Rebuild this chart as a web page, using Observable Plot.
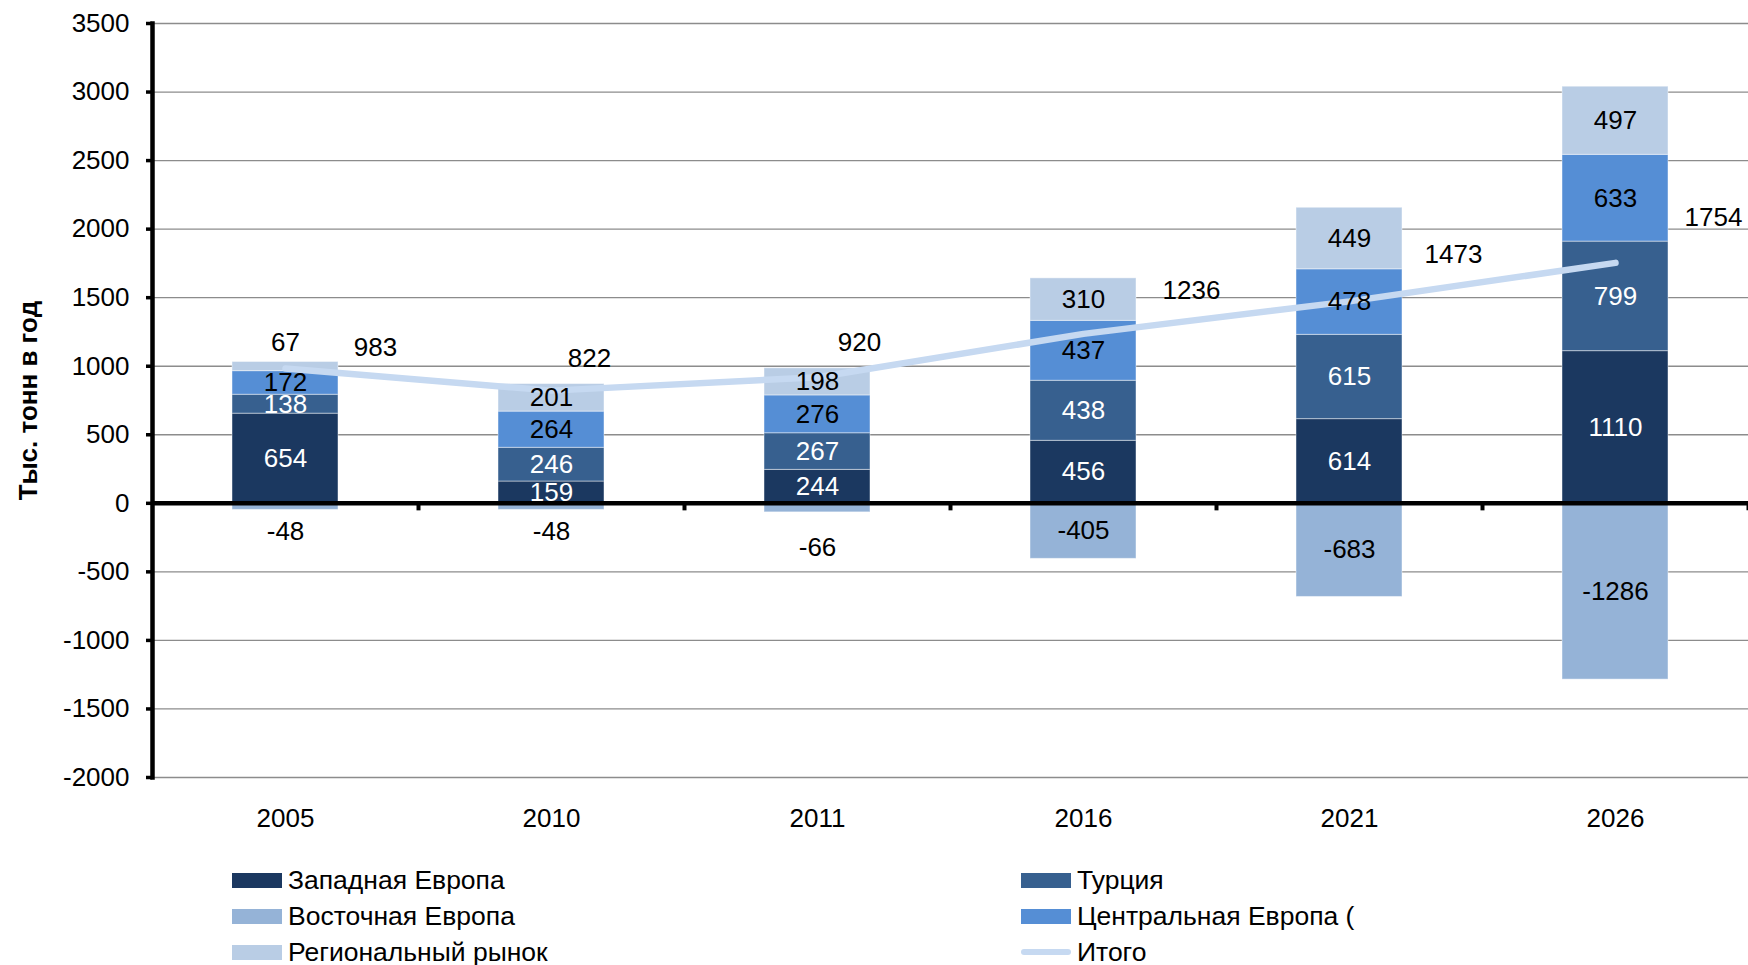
<!DOCTYPE html>
<html>
<head>
<meta charset="utf-8">
<script src="https://cdn.jsdelivr.net/npm/d3@7"></script>
<script src="https://cdn.jsdelivr.net/npm/@observablehq/plot@0.6"></script>
<style>
  body { margin: 0; background: #fff; font-family: "Liberation Sans", Arial, sans-serif; }
  #wrap { position: relative; width: 1748px; height: 965px; overflow: hidden; background: #fff; }
  #chart { position: absolute; left: 0; top: 0; }
  .leg { position: absolute; height: 30px; display: flex; align-items: center; font-size: 26.5px; color: #000; white-space: nowrap; }
  .sw { width: 50px; height: 15px; margin-right: 6px; flex: none; }
  .swline { width: 50px; height: 6px; border-radius: 3px; margin-right: 6px; flex: none; }
</style>
</head>
<body>
<div id="wrap"><div id="chart"></div></div>
<script>
// ---- data ----
const years = ["2005", "2010", "2011", "2016", "2021", "2026"];
const westernEurope = [654, 159, 244, 456, 614, 1110];
const turkey = [138, 246, 267, 438, 615, 799];
const centralEurope = [172, 264, 276, 437, 478, 633];
const regionalMarket = [67, 201, 198, 310, 449, 497];
const easternEurope = [-48, -48, -66, -405, -683, -1286];
const total = [983, 822, 920, 1236, 1473, 1754];
const yTicks = [-2000, -1500, -1000, -500, 0, 500, 1000, 1500, 2000, 2500, 3000, 3500];

const seriesNames = ["Западная Европа", "Турция", "Центральная Европа (", "Региональный рынок", "Восточная Европа"];
const totalName = "Итого";
const yTitle = "Тыс. тонн в год";

// ---- styles ----
const seriesColors = ["#1b3860", "#37608f", "#558ed5", "#b9cde5", "#95b3d7"];
const labelColors = ["white", "white", "black", "black", "black"];
const lineColor = "#c6d9f1";

const seriesValues = [westernEurope, turkey, centralEurope, regionalMarket, easternEurope];
const data = years.flatMap((year, i) =>
  seriesNames.map((s, k) => ({year, series: s, value: seriesValues[k][i], k}))
);
const totals = years.map((year, i) => ({year, total: total[i]}));

const W = 1748, H = 845, mL = 152, mR = 0, mT = 23, mB = 68;
const step = (W - mL - mR) / years.length;

// label offsets as placed in the original
const totalOffsets = {
  "2005": [90, -21], "2010": [38, -32], "2011": [42, -35],
  "2016": [108, -43], "2021": [104, -47], "2026": [98, -45]
};
const negSmallOffsets = {"2005": 22, "2010": 22, "2011": 35, "2016": 22, "2021": 22, "2026": 22};

const small = 100;
const stackOpts = {x: "year", y: "value", z: "series", order: seriesNames};

const marks = [
  Plot.gridY(yTicks.filter(t => t !== 0), {stroke: "#8c8c8c", strokeOpacity: 1, strokeWidth: 1.3}),
  Plot.barY(data, {...stackOpts, fill: "series", stroke: "white", strokeOpacity: 0.45, strokeWidth: 1}),
  Plot.ruleY([0], {stroke: "black", strokeWidth: 4.5}),
  Plot.ruleX(years, {x: d => d, y1: 0, y2: -55, dx: step / 2, stroke: "black", strokeWidth: 4}),
  Plot.line(totals, {x: "year", y: "total", stroke: lineColor, strokeWidth: 6.5, strokeLinecap: "round", strokeLinejoin: "round"}),
  // centred segment labels
  ...[0, 1, 2, 3, 4].map(k =>
    Plot.text(data, Plot.stackY({
      ...stackOpts,
      text: d => (d.k === k && Math.abs(d.value) >= small) ? String(d.value) : null,
      fill: labelColors[k], fontSize: 26
    }))
  ),
  // small positive segment labels: above the stack
  Plot.text(data, Plot.stackY2({
    ...stackOpts,
    text: d => (d.value > 0 && d.value < small) ? String(d.value) : null,
    fill: "black", fontSize: 26, dy: -19
  })),
  // small negative segment labels: below the bar
  ...years.map(yr =>
    Plot.text(data, Plot.stackY2({
      ...stackOpts,
      text: d => (d.year === yr && d.value < 0 && d.value > -small) ? String(d.value) : null,
      fill: "black", fontSize: 26, dy: negSmallOffsets[yr]
    }))
  ),
  // total labels
  ...years.map(yr =>
    Plot.text(totals.filter(d => d.year === yr), {
      x: "year", y: "total", text: d => String(d.total),
      fill: "black", fontSize: 26, dx: totalOffsets[yr][0], dy: totalOffsets[yr][1]
    })
  ),
  // axes
  Plot.axisY({ticks: yTicks, tickFormat: d => String(d), tickSize: 6, tickPadding: 17, strokeWidth: 3.5, fontSize: 26, label: null}),
  Plot.frame({anchor: "left", stroke: "black", strokeWidth: 4.5}),
  Plot.text(years, {x: d => d, text: d => d, frameAnchor: "bottom", dy: 49, fontSize: 26, fill: "black"}),
  Plot.text([yTitle], {text: d => d, frameAnchor: "left", textAnchor: "middle", dx: -124, rotate: -90, fontWeight: "bold", fontSize: 26, fill: "black"})
];

const chart = Plot.plot({
  width: W, height: H,
  marginLeft: mL, marginRight: mR, marginTop: mT, marginBottom: mB,
  style: {fontFamily: "'Liberation Sans', Arial, sans-serif", fontSize: "26px", color: "black", background: "white", overflow: "visible"},
  x: {type: "band", domain: years, paddingInner: 0.6, paddingOuter: 0.3, axis: null},
  y: {domain: [-2000, 3500], axis: null},
  color: {domain: seriesNames, range: seriesColors},
  marks
});
document.getElementById("chart").appendChild(chart);

// ---- legend (HTML, below the SVG) ----
const legendItems = [
  {name: seriesNames[0], color: seriesColors[0]},
  {name: seriesNames[1], color: seriesColors[1]},
  {name: seriesNames[4], color: seriesColors[4]},
  {name: seriesNames[2], color: seriesColors[2]},
  {name: seriesNames[3], color: seriesColors[3]},
  {name: totalName, color: lineColor, line: true}
];
const colX = [232, 1021];
const rowY = [880, 916, 952];
const wrap = document.getElementById("wrap");
legendItems.forEach((it, i) => {
  const el = document.createElement("div");
  el.className = "leg";
  el.style.left = colX[i % 2] + "px";
  el.style.top = (rowY[Math.floor(i / 2)] - 15) + "px";
  const sw = document.createElement("div");
  sw.className = it.line ? "swline" : "sw";
  sw.style.background = it.color;
  const tx = document.createElement("span");
  tx.textContent = it.name;
  el.appendChild(sw);
  el.appendChild(tx);
  wrap.appendChild(el);
});
</script>
</body>
</html>
